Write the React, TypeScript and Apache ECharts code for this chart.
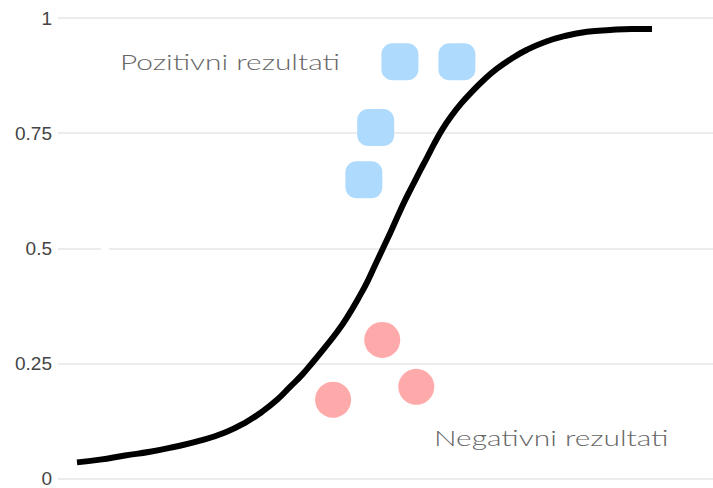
import React, { useEffect, useRef } from "react";
import * as echarts from "echarts";

const yTicks = [0, 0.25, 0.5, 0.75, 1];

const curveX = [
  0.29, 0.641, 1.023, 1.405, 1.786, 2.168, 2.55, 2.855, 3.115, 3.344, 3.542, 3.725, 3.893, 4.076, 4.26,
  4.427, 4.58, 4.718, 4.84, 4.962, 5.084, 5.191, 5.298, 5.42, 5.527, 5.634, 5.74, 5.863, 6.0, 6.153,
  6.321, 6.504, 6.702, 6.916, 7.16, 7.435, 7.74, 8.076, 8.427, 8.763, 9.069,
];
const curveY = [
  0.035, 0.041, 0.05, 0.058, 0.069, 0.082, 0.1, 0.121, 0.145, 0.171, 0.199, 0.225, 0.253, 0.285, 0.318,
  0.353, 0.39, 0.426, 0.463, 0.5, 0.537, 0.571, 0.604, 0.638, 0.668, 0.697, 0.726, 0.757, 0.786, 0.814,
  0.84, 0.866, 0.89, 0.911, 0.931, 0.948, 0.961, 0.97, 0.974, 0.976, 0.976,
];

const positiveX = [5.22, 6.09, 4.85, 4.67];
const positiveY = [0.905, 0.905, 0.762, 0.649];

const negativeX = [4.95, 5.47, 4.2];
const negativeY = [0.301, 0.199, 0.171];

const positiveLabel = "Pozitivni rezultati";
const negativeLabel = "Negativni rezultati";

const roundSquare =
  "path://M30,0 H70 A30,30 0 0 1 100,30 V70 A30,30 0 0 1 70,100 H30 A30,30 0 0 1 0,70 V30 A30,30 0 0 1 30,0 Z";

export default function App() {
  const ref = useRef<HTMLDivElement>(null);
  useEffect(() => {
    if (!ref.current) return;
    const chart = echarts.init(ref.current, undefined, { renderer: "svg" });
    const zip = (xs: number[], ys: number[]) => xs.map((x, i) => [x, ys[i]]);
    const labelStyle = {
      fontSize: 22,
      fontFamily: "Lato",
      fontWeight: 300,
      fill: "#666",
      textVerticalAlign: "middle",
    };
    chart.setOption({
      animation: false,
      grid: { left: 58, right: 0, top: 18, bottom: 8, containLabel: false },
      xAxis: {
        type: "value",
        min: 0,
        max: 10,
        show: false,
      },
      yAxis: {
        type: "value",
        min: yTicks[0],
        max: yTicks[yTicks.length - 1],
        interval: 0.25,
        axisLine: { show: false },
        axisTick: { show: false },
        axisLabel: {
          color: "#444",
          fontSize: 19,
          fontFamily: "Liberation Sans, Arial, sans-serif",
          margin: 6,
        },
        splitLine: { lineStyle: { color: "#e6e6e6", width: 1.5 } },
      },
      graphic: [
        { type: "rect", shape: { x: 101, y: 247, width: 8, height: 4 }, style: { fill: "#fff" }, z: 10 },
        {
          type: "text",
          x: 120,
          y: 62,
          scaleX: 1.36,
          style: { ...labelStyle, text: positiveLabel },
        },
        {
          type: "text",
          x: 434,
          y: 438,
          scaleX: 1.36,
          style: { ...labelStyle, text: negativeLabel },
        },
      ],
      series: [
        {
          type: "line",
          data: zip(curveX, curveY),
          smooth: 0.5,
          showSymbol: false,
          lineStyle: { color: "#000", width: 6, cap: "butt" },
          z: 3,
        },
        {
          type: "scatter",
          data: zip(positiveX, positiveY),
          symbol: roundSquare,
          symbolSize: 37,
          itemStyle: { color: "#aedafe", opacity: 1 },
          z: 2,
        },
        {
          type: "scatter",
          data: zip(negativeX, negativeY),
          symbol: "circle",
          symbolSize: 36,
          itemStyle: { color: "#ffaaaa", opacity: 1 },
          z: 2,
        },
      ],
    });
    return () => chart.dispose();
  }, []);
  return <div ref={ref} style={{ width: 713, height: 488, position: "absolute", left: 0, top: 0 }} />;
}
